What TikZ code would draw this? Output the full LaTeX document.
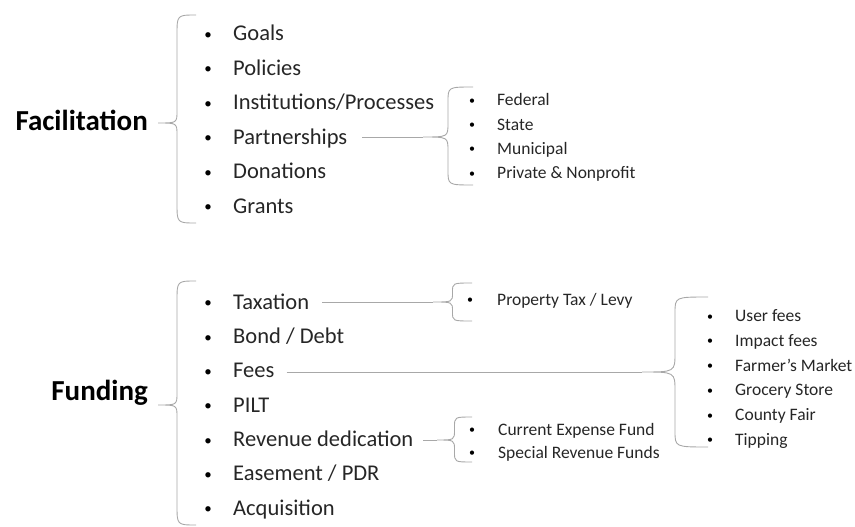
\documentclass[tikz,border=0pt]{standalone}
\usepackage{fontspec}
\setmainfont{Carlito}
\usepackage{xcolor}
\usetikzlibrary{positioning,calc}
\definecolor{ink}{HTML}{262626}
\definecolor{rule}{HTML}{A8A8A8}
\tikzset{
  head/.style={anchor=base east,inner sep=0pt,font=\fontsize{29}{34}\selectfont\bfseries,text=black},
  item/.style={anchor=base west,inner sep=0pt,font=\fontsize{22.5}{26}\selectfont,text=ink},
  sub/.style={anchor=base west,inner sep=0pt,font=\fontsize{17.5}{21}\selectfont,text=ink},
  bul/.style={anchor=base,inner sep=0pt,yshift=1.5pt,font=\fontsize{15}{17}\selectfont},
  sbul/.style={anchor=base,inner sep=0pt,yshift=1.5pt,font=\fontsize{12}{14}\selectfont},
  brace/.style={draw=rule,line width=0.9pt},
  link/.style={draw=rule,line width=0.9pt},
}
% tip x, tip y, end x, top y, bottom y, end radius, tip radius
\newcommand{\curlyb}[7]{%
  \pgfmathsetmacro\bmx{(#1+#3)/2}
  \draw[brace] (#3,#4) .. controls (\bmx,#4) .. (\bmx,#4+#6)
    -- (\bmx,#2-#7) .. controls (\bmx,#2) .. (#1,#2)
    .. controls (\bmx,#2) .. (\bmx,#2+#7)
    -- (\bmx,#5-#6) .. controls (\bmx,#5) .. (#3,#5);
}

\begin{document}
\begin{tikzpicture}[x=1pt,y=-1pt]
  \useasboundingbox (0,0) rectangle (855,527);

  % facilitation
  \node[head] (fac) at (148,130) {Facilitation};
  \curlyb{158}{123}{196}{15}{223}{20}{12}
  \foreach \txt [count=\i] in {Goals,Policies,Institutions/Processes,Partnerships,Donations,Grants}{
    \pgfmathsetmacro\yy{40.7+34.5*(\i-1)}
    \node[bul] (fb\i) at (208,\yy) {\textbullet};
    \node[item] (f\i) at (233,\yy) {\txt};
  }
  \coordinate (ptip) at (423,137);
  \curlyb{423}{137}{473}{87}{185}{15}{14}
  \draw[link] ([xshift=15pt]f4.east |- ptip) -- (ptip);
  \foreach \txt [count=\i] in {Federal,State,Municipal,Private \& Nonprofit}{
    \pgfmathsetmacro\yy{105.7+24.3*(\i-1)}
    \node[sbul] (pb\i) at (472,\yy) {\textbullet};
    \node[sub] (p\i) at (497,\yy) {\txt};
  }

  % funding
  \node[head] (fun) at (148,400) {Funding};
  \curlyb{158}{405}{196}{281}{525}{20}{12}
  \foreach \txt [count=\i] in {Taxation,Bond / Debt,Fees,PILT,Revenue dedication,Easement / PDR,Acquisition}{
    \pgfmathsetmacro\yy{309.3+34.3*(\i-1)}
    \node[bul] (gb\i) at (208,\yy) {\textbullet};
    \node[item] (g\i) at (233,\yy) {\txt};
  }

  % taxation
  \coordinate (ttip) at (433,302);
  \curlyb{433}{302}{472}{283}{321}{9}{9}
  \draw[link] ([xshift=13pt]g1.east |- ttip) -- (ttip);
  \node[sbul] (tb1) at (470,305) {\textbullet};
  \node[sub] (t1) at (497,305) {Property Tax / Levy};

  % fees
  \coordinate (etip) at (642,372);
  \curlyb{642}{372}{708}{297}{447}{16}{19}
  \draw[link] ([xshift=12pt]g3.east |- etip) -- (etip);
  \foreach \txt [count=\i] in {User fees,Impact fees,Farmer’s Market,Grocery Store,County Fair,Tipping}{
    \pgfmathsetmacro\yy{321.7+24.7*(\i-1)}
    \node[sbul] (eb\i) at (710,\yy) {\textbullet};
    \node[sub] (e\i) at (735,\yy) {\txt};
  }

  % revenue dedication
  \coordinate (rtip) at (437,440);
  \curlyb{437}{440}{472}{417}{462}{10}{10}
  \draw[link] ([xshift=10pt]g5.east |- rtip) -- (rtip);
  \node[sbul] (rb1) at (472,435) {\textbullet};
  \node[sub] (r1) at (498,435) {Current Expense Fund};
  \node[sbul] (rb2) at (472,458) {\textbullet};
  \node[sub] (r2) at (498,458) {Special Revenue Funds};
\end{tikzpicture}
\end{document}
